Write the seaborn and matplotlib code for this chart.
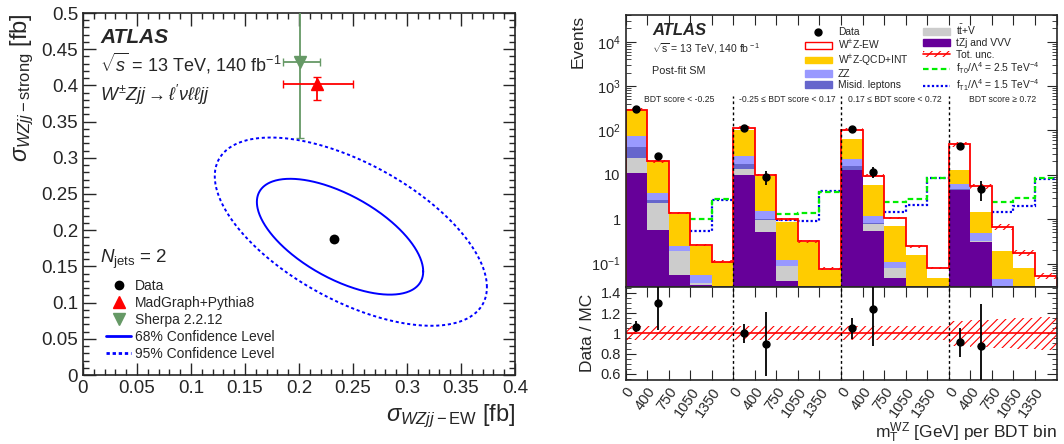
import numpy as np
import matplotlib
matplotlib.use("Agg")
import matplotlib.pyplot as plt
from matplotlib.lines import Line2D
from matplotlib.patches import Patch
from matplotlib.ticker import MultipleLocator, FuncFormatter, FixedLocator, LogLocator, NullFormatter
import seaborn as sns

# ---------------- left panel: 2D cross-section ----------------
data_point = [0.232, 0.188]
mg_point = [0.217, 0.402]
mg_xerr = [0.032, 0.033]      # low, high
mg_yerr = [0.022, 0.010]
sherpa_point = [0.201, 0.433]
sherpa_xerr = [0.016, 0.018]
sherpa_yerr = [0.105, 0.105]

# contour: centre x, centre y, half-width x, half-width y, correlation
cl68 = [0.238, 0.191, 0.077, 0.080, -0.60]
cl95 = [0.248, 0.198, 0.126, 0.130, -0.59]

# ---------------- right panel: post-fit yields ----------------
mt_labels = ["0", "400", "750", "1050", "1350"]
bdt_labels = ["BDT score < -0.25", "-0.25 \u2264 BDT score < 0.17",
              "0.17 \u2264 BDT score < 0.72", "BDT score \u2265 0.72"]

tzj_vvv = [10.9, 0.58, 0.054, 0.032, 0.01,   10.0, 0.51, 0.040, 0.01, 0.005,
           12.6, 0.54, 0.047, 0.01, 0.004,   4.46, 0.30, 0.02, 0.005, 0.002]
ttv     = [12.9, 1.72, 0.136, 0.005, 0.002,  3.2, 0.46, 0.046, 0.003, 0.001,
           0.4, 0.25, 0.032, 0.003, 0.001,   0.14, 0.02, 0.002, 0.001, 0.0005]
misid   = [18.2, 0.35, 0.0, 0.0, 0.0,        3.9, 0.05, 0.0, 0.0, 0.0,
           2.5, 0.04, 0.0, 0.0, 0.0,         0.3, 0.0, 0.0, 0.0, 0.0]
zz      = [31.0, 1.25, 0.06, 0.017, 0.005,   8.9, 0.48, 0.032, 0.003, 0.001,
           7.5, 0.35, 0.031, 0.004, 0.002,   1.4, 0.17, 0.022, 0.004, 0.002]
wz_qcd  = [209, 16.1, 1.08, 0.196, 0.089,    77, 7.7, 0.742, 0.289, 0.063,
           42, 4.79, 0.59, 0.141, 0.041,     6.3, 0.96, 0.144, 0.069, 0.022]
wz_ew   = [10, 0.3, 0.05, 0.01, 0.004,       12, 0.7, 0.14, 0.014, 0.007,
           38.5, 3.53, 0.36, 0.086, 0.031,   35.8, 4.12, 0.477, 0.097, 0.026]

nan = np.nan
data_yield = [311, 26.3, nan, nan, nan,  115, 8.86, nan, nan, nan,
              108.6, 11.8, nan, nan, nan,  44.1, 4.87, nan, nan, nan]
data_err   = [16, 5.3, nan, nan, nan,  10.4, 3.1, nan, nan, nan,
              10.9, 3.5, nan, nan, nan,  6.8, 2.3, nan, nan, nan]
tot_unc    = [0.07] * 15 + [0.12, 0.13, 0.14, 0.15, 0.165]

ft0 = [nan, nan, nan, 0.99, 2.84,  nan, nan, 1.28, 1.35, 4.1,
       nan, nan, 2.43, 2.89, 8.6,  nan, nan, 2.43, 3.0, 8.6]
ft1 = [nan, nan, nan, 0.55, 2.75,  nan, nan, 0.95, 0.92, 4.4,
       nan, nan, 1.45, 2.05, 8.6,  nan, nan, 1.45, 1.98, 8.2]

# ---------------- style ----------------
sns.set_style("ticks")
plt.rcParams["font.family"] = ["Liberation Sans", "DejaVu Sans"]
plt.rcParams["mathtext.fontset"] = "custom"
plt.rcParams["mathtext.rm"] = "Liberation Sans"
plt.rcParams["mathtext.it"] = "Liberation Sans:italic"
plt.rcParams["mathtext.bf"] = "Liberation Sans:bold"
plt.rcParams["hatch.linewidth"] = 0.8

W, H = 1064, 444
def fx(x): return x / W
def fy(y): return 1 - y / H

fig = plt.figure(figsize=(W / 100, H / 100), dpi=100)
axL = fig.add_axes([fx(83), fy(375), (515 - 83) / W, (375 - 13) / H])
axM = fig.add_axes([fx(625.5), fy(286.7), (1056.5 - 625.5) / W, (286.7 - 15) / H])
axR = fig.add_axes([fx(625.5), fy(380), (1056.5 - 625.5) / W, (380 - 286.7) / H])

# ---------------- left panel ----------------
blue = "#0000ff"
green = "#669966"
t = np.linspace(0, 2 * np.pi, 400)
for (cx, cy, hx, hy, rho), ls in [(cl68, "-"), (cl95, (0, (1.6, 1.4)))]:
    ex = cx + hx * np.cos(t)
    ey = cy + hy * (rho * np.cos(t) + np.sqrt(1 - rho ** 2) * np.sin(t))
    sns.lineplot(x=ex, y=ey, sort=False, estimator=None, color=blue,
                 lw=1.4, linestyle=ls, ax=axL)

axL.errorbar(sherpa_point[0], sherpa_point[1],
             xerr=[[sherpa_xerr[0]], [sherpa_xerr[1]]],
             yerr=[[sherpa_yerr[0]], [sherpa_yerr[1]]],
             fmt="v", color=green, ms=8, capsize=3, lw=1.3, zorder=4)
axL.errorbar(mg_point[0], mg_point[1],
             xerr=[[mg_xerr[0]], [mg_xerr[1]]], yerr=[[mg_yerr[0]], [mg_yerr[1]]],
             fmt="^", color="red", ms=8, capsize=3, lw=1.3, zorder=4)
sns.scatterplot(x=[data_point[0]], y=[data_point[1]], color="black", s=50,
                linewidth=0, ax=axL, zorder=5)

axL.set_xlim(0, 0.4)
axL.set_ylim(0, 0.5)
fmt = FuncFormatter(lambda v, _: f"{v:g}")
for a in (axL.xaxis, axL.yaxis):
    a.set_major_locator(MultipleLocator(0.05))
    a.set_minor_locator(MultipleLocator(0.01))
    a.set_major_formatter(fmt)
axL.tick_params(which="both", direction="in", top=True, right=True, labelsize=13.5, width=1)
axL.tick_params(which="major", length=9)
axL.tick_params(which="minor", length=4.5)
axL.set_xlabel(r"$\sigma_{WZjj-\mathrm{EW}}$ [fb]", loc="right", fontsize=17)
axL.set_ylabel(r"$\sigma_{WZjj-\mathrm{strong}}$ [fb]", loc="top", fontsize=17)
for s in axL.spines.values():
    s.set_linewidth(1.2)

fig.text(fx(100), fy(43), "ATLAS", fontsize=15, fontweight="bold", fontstyle="italic")
fig.text(fx(100), fy(72), r"$\sqrt{s}$ = 13 TeV, 140 fb$^{-1}$", fontsize=13)
fig.text(fx(100), fy(101), r"$W^{\pm}Zjj \rightarrow \ell'\nu\ell\ell jj$", fontsize=13)
fig.text(fx(100), fy(263), r"$N_{\rm jets}$ = 2", fontsize=13.5)

left_handles = [Line2D([], [], marker="o", color="black", ls="none", ms=6),
                Line2D([], [], marker="^", color="red", ls="none", ms=8),
                Line2D([], [], marker="v", color=green, ls="none", ms=8),
                Line2D([], [], color=blue, lw=2),
                Line2D([], [], color=blue, lw=2, ls=(0, (1.2, 1)))]
left_labels = ["Data", "MadGraph+Pythia8", "Sherpa 2.2.12",
               "68% Confidence Level", "95% Confidence Level"]
axL.legend(left_handles, left_labels, loc="upper left", bbox_to_anchor=(fx(106), fy(279)),
           bbox_transform=fig.transFigure, fontsize=10, handlelength=1.8,
           handletextpad=0.3, labelspacing=0.22, frameon=False, borderpad=0, borderaxespad=0)

# ---------------- right panel: stacked yields ----------------
edges = np.arange(21)
centers = edges[:-1] + 0.5
stack = np.array([tzj_vvv, ttv, misid, zz, wz_qcd, wz_ew])
colors = ["#660099", "#cccccc", "#6666cc", "#9999ff", "#ffcc00", "white"]
cum = np.cumsum(stack, axis=0)
for level, col in reversed(list(zip(cum, colors))):
    axM.stairs(level, edges, baseline=1e-4, fill=True, color=col, lw=0)
total = cum[-1]
unc = np.array(tot_unc)

for vals, col, ls in [(ft1, "#0000ee", (0, (1, 1))), (ft0, "#00ee00", (0, (2.5, 1.5)))]:
    vals = np.array(vals, float)
    for r in range(4):
        seg = vals[r * 5:(r + 1) * 5]
        i0 = int(np.argmax(~np.isnan(seg)))
        axM.stairs(seg[i0:], edges[r * 5 + i0:(r + 1) * 5 + 1], baseline=None,
                   color=col, lw=1.6, linestyle=ls)

axM.stairs(total * (1 + unc), edges, baseline=total * (1 - unc), fill=True,
           facecolor="none", edgecolor="red", lw=0, hatch="////")
axM.stairs(total, edges, baseline=1e-4, color="red", lw=1.3)

dy = np.array(data_yield, float)
de = np.array(data_err, float)
axM.errorbar(centers, dy, yerr=de, fmt="o", color="black", ms=5, lw=1.3, capsize=0, zorder=6)

axM.vlines([5, 10, 15], 0.03, 600, colors="black", linestyles=(0, (2, 2)), lw=1)
for i, lab in enumerate(bdt_labels):
    axM.text(i * 5 + 2.5, 500, lab, ha="center", va="center", fontsize=6.2)

axM.set_yscale("log")
axM.set_xlim(0, 20)
axM.set_ylim(0.03, 4e4)
axM.yaxis.set_major_locator(FixedLocator([0.1, 1, 10, 100, 1000, 10000]))
axM.set_yticklabels(["$10^{-1}$", "1", "10", "$10^{2}$", "$10^{3}$", "$10^{4}$"])
axM.yaxis.set_minor_locator(LogLocator(base=10, subs=np.arange(2, 10), numticks=20))
axM.yaxis.set_minor_formatter(NullFormatter())
axM.xaxis.set_major_locator(FixedLocator(edges))
axM.tick_params(axis="x", labelbottom=False)
axM.tick_params(which="both", direction="in", top=True, right=True, labelsize=10.5)
axM.tick_params(which="major", length=7)
axM.tick_params(which="minor", length=3.5)
axM.set_ylabel("Events", loc="top", fontsize=12.5)

fig.text(fx(652), fy(35), "ATLAS", fontsize=12, fontweight="bold", fontstyle="italic")
fig.text(fx(652), fy(52), r"$\sqrt{\rm s}$ = 13 TeV, 140 fb$^{\rm -1}$", fontsize=7.5)
fig.text(fx(652), fy(74), "Post-fit SM", fontsize=7.8)

right_handles = [Line2D([], [], marker="o", color="black", ls="none", ms=5),
                 Patch(facecolor="white", edgecolor="red", lw=1),
                 Patch(color="#ffcc00"), Patch(color="#9999ff"), Patch(color="#6666cc"),
                 Patch(color="#cccccc"), Patch(color="#660099"),
                 (Patch(facecolor="none", edgecolor="red", hatch="////", lw=0),
                  Line2D([], [], color="red", lw=1.2)),
                 Line2D([], [], color="#00ee00", ls=(0, (2.5, 1.5)), lw=1.6),
                 Line2D([], [], color="#0000ee", ls=(0, (1, 1)), lw=1.6)]
right_labels = ["Data", r"W$^{\pm}$Z-EW", r"W$^{\pm}$Z-QCD+INT", "ZZ", "Misid. leptons",
                r"t$\rm\bar{t}$+V", "tZj and VVV", "Tot. unc.",
                r"f$_{\rm T0}$/$\Lambda^{4}$ = 2.5 TeV$^{-4}$",
                r"f$_{\rm T1}$/$\Lambda^{4}$ = 1.5 TeV$^{-4}$"]
axM.legend(right_handles, right_labels, ncol=2, loc="upper left",
           bbox_to_anchor=(fx(805), fy(23)), bbox_transform=fig.transFigure,
           frameon=False, fontsize=7.4, handlelength=2.6, handleheight=0.6,
           handletextpad=0.6, columnspacing=1.4, labelspacing=0.12,
           borderpad=0, borderaxespad=0)

# ---------------- ratio panel ----------------
ratio = dy / total
ratio_err = de / total
axR.stairs(1 + unc, edges, baseline=1 - unc, fill=True, facecolor="none",
           edgecolor="red", lw=0, hatch="////")
axR.axhline(1, color="red", lw=1.2)
axR.errorbar(centers, ratio, yerr=ratio_err, fmt="o", color="black", ms=5, lw=1.3,
             capsize=0, zorder=6)
axR.vlines([5, 10, 15], 0.54, 1.46, colors="black", linestyles=(0, (2, 2)), lw=1)
axR.set_xlim(0, 20)
axR.set_ylim(0.54, 1.46)
axR.yaxis.set_major_locator(FixedLocator([0.6, 0.8, 1.0, 1.2, 1.4]))
axR.set_yticklabels(["0.6", "0.8", "1", "1.2", "1.4"])
axR.yaxis.set_minor_locator(MultipleLocator(0.05))
axR.xaxis.set_major_locator(FixedLocator(edges[:-1]))
axR.set_xticklabels(mt_labels * 4, rotation=55, ha="right", va="top", rotation_mode="anchor")
axR.tick_params(which="both", direction="in", top=True, right=True, labelsize=10.5)
axR.tick_params(which="major", length=7)
axR.tick_params(which="minor", length=3.5)
axR.set_ylabel("Data / MC", fontsize=12.5)
axR.set_xlabel(r"m$_{\rm T}^{\rm WZ}$ [GeV] per BDT bin", fontsize=12.5, ha="right", va="top")
axR.xaxis.set_label_coords(1.0, -0.43)

for ax in (axM, axR):
    for s in ax.spines.values():
        s.set_linewidth(1.2)

fig.savefig("out.png", dpi=100)
